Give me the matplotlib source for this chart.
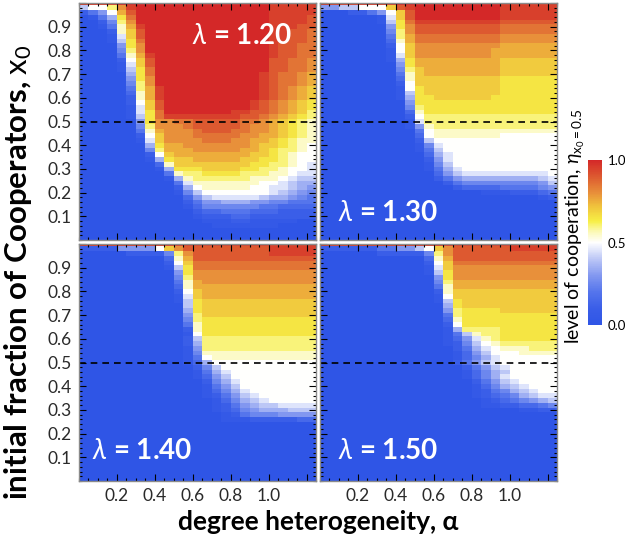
import numpy as np
import matplotlib
matplotlib.use("Agg")
import matplotlib.pyplot as plt
from matplotlib.colors import LinearSegmentedColormap
from matplotlib.ticker import MultipleLocator, FixedLocator, FixedFormatter

plt.rcParams['font.family'] = ['Lato', 'DejaVu Sans']
plt.rcParams['mathtext.fontset'] = 'custom'
plt.rcParams['mathtext.rm'] = 'Lato'
plt.rcParams['mathtext.it'] = 'Lato:italic'
plt.rcParams['mathtext.bf'] = 'Lato:bold'

# simulation grid: degree heterogeneity alpha (25 columns) x initial fraction x0 (51 rows)
alpha_edges = np.arange(26) * 0.05
x0_values = np.arange(51) * 0.02
lambdas = ["1.20", "1.30", "1.40", "1.50"]

# cooperation level: one string per x0 row (first = x0 1.00),
# one character per alpha column, in twentieths (0 -> 0.0, A -> 0.5, K -> 1.0)
LEVELS = "0123456789ABCDEFGHIJK"
Z25 = "0000000000000000000000000"

coop_120 = [
    "JJJJKKKKKKKKKKKKKKKKJJJJJ", "8AACGJKKKKKKKKKKKKKKJJJJJ", "246AFIKKKKKKKKKKKKKKJJJJJ",
    "0147DHKKKKKKKKKKKKKKJJJJI", "0025CGKKKKKKKKKKKKKKJJJJI", "0014BFJKKKKKKKKKKKKKJJJII",
    "0002BEIKKKKKKKKKKKKKJJIIH", "00019EIKKKKKKKKKKKKKJJIIH", "00018DHKKKKKKKKKKKKKJJIIH",
    "00006DGKKKKKKKKKKKKKJIIHH", "00005CGKKKKKKKKKKKKKJIIHH", "00004BFJKKKKKKKKKKKKJIIHH",
    "00002AEIKKKKKKKKKKKKIIHHG", "000019EIKKKKKKKKKKKKIIHHG", "000018DHKKKKKKKKKKKKIIHHG",
    "000007DHKKKKKKKKKKKJIHHGF", "000006DGKKKKKKKKKKKJIHHGF", "000005CGKKKKKKKKKKKJIHHGF",
    "000004CFJKKKKKKKKKKJIHGFE", "000003BFJKKKKKKKKKKJIHGFE", "000002BFJKKKKKKKKKKJIHGFE",
    "000002AEIKKKKKKKKKJIHGFED", "0000019EIKKKKKKKKKJIHGFED", "0000019DHKKKKKKKJJIIHGFEC",
    "0000018DHJJJJJJJJIIHGFEDC", "0000006DGGHHIIIIIHHGFEDCB", "0000005CGGGHIIIIIHGGFEDCB",
    "0000004BFGGGHIIIHHGGFEDCB", "0000002AEGGGHHHHHGGFFEDCB", "00000019EGGGGHHHGGFFEDCBB",
    "00000007DFFGGGGGGGFEEDCBA", "00000005CFFFGGGGGFFEDCCBA", "00000002AEFFFFFFFFEEDCBAA",
    "000000017DEEFFFFFEEDDCBAA", "000000003BEEEEEEEEDDCCBA9", "0000000017DDDEEEEDDCCBAA9",
    "0000000004BCCDDDDCCCBBA99", "00000000017BCCCCCCBBBA988", "000000000049BBBBBBBAA9877",
    "000000000027ABBBBBAA99876", "0000000000158AAAAAAA98765", "0000000000036899999877654",
    "0000000000024667776655444", "0000000000013555555443333", "0000000000002334443332222",
    "0000000000001222332222222", "0000000000000111221111100", "0000000000000011111110000",
    Z25, Z25, Z25,
]
coop_130 = [
    "JJJJJJJJKKKKKKKKKKKJJJJJJ", "6688AAAEIJKKKKKKKKKJJJJJJ", "0002246AEIKKKKKKKKKJJJJJJ",
    "00000019EIKKKKKKKKKJJJJJJ", "00000018DHJJJJJJJJJIIIIII", "00000006DGIIIIIIIIIHHHHHH",
    "00000005CGIIIIIIIIIHHHHHH", "00000004CFHHHHHHHHHGGGGGG", "00000003BFHHHHHHHHHGGGGGG",
    "00000002AEGGGGGGGGGFFFFFF", "00000001AEGGGGGGGGFFFFFFF", "000000019EGGGGGGGGFFFFFFF",
    "000000017DFFFFFFFFFEEEEEE", "000000006DFFFFFFFFFEEEEEE", "000000005CEFFFFFFFFEEEEEE",
    "000000004BEFFFFFFFFEEEEEE", "000000003BEEEEEEEEEDDDDDD", "000000002AEEEEEEEEEDDDDDD",
    "000000001ADEEEEEEEEDDDDDD", "0000000018DEEEEEEEEDDDDDD", "0000000017DDEEEEEEDDDDDDD",
    "0000000006DDDDDDDDDDDDDDD", "0000000005CDDDDDDDDDDDDDD", "0000000003BDDDDDDDDDDDDDD",
    "0000000002ACCCCCCCCCCCCCC", "00000000019CCCCCCCCCCCCCC", "00000000016BCCCCCCCCCCCCC",
    "00000000004ABBBBBBBBBBBBB", "00000000003ABBBBBBBAAAAAA", "000000000028AAAAAAAAAAAAA",
    "0000000000159AAAAAAAAAAAA", "0000000000148AAAAAAAAAAAA", "00000000000379AAAAAAAAAAA",
    "00000000000269AAAAAAAAAAA", "00000000000158AAAAAAAAAAA", "000000000001479AAAAAAAAAA",
    "000000000000368999999999A", "0000000000002467777777789", "0000000000000245555555568",
    "0000000000000023333444456", "0000000000000000011122234", "0000000000000000000000012",
    Z25, Z25, Z25, Z25, Z25, Z25, Z25, Z25, Z25,
]
coop_140 = [
    "JJJJJJJJJJJJJJJJJJJJJJJJJ", "22226666AEGIIIIIIIIIJJJJJ", "0000022225CGIIIIIIIIJJJJJ",
    "0000000003BFIIIIIIIIIIIII", "0000000002AEHHHHHHHHHHHHH", "00000000018DHHHHHHHHHHHHH",
    "00000000006DGGGGGGGGGGGGG", "00000000005CGGGGGGGGGGGGG", "00000000004BFGGGGGGGGGGGG",
    "00000000003BFFFFFFFFFFFFF", "00000000002AEFFFFFFFFFFFF", "000000000019EFFFFFFFFFFFF",
    "000000000018DEEEEEEEEEEEE", "000000000008DEEEEEEEEEEEE", "000000000007DEEEEEEEEEEEE",
    "000000000006CEEEEEEEEEEEE", "000000000005CDDDDDDDDDDDD", "000000000004BDDDDDDDDDDDD",
    "000000000002BDDDDDDDDDDDD", "000000000001ADDDDDDDDDDDD", "0000000000028CCCCCCCCCCCC",
    "0000000000027CCCCCCCCCCCC", "0000000000016CCCCCCCCCCCC", "0000000000015BBBBBBBBBBBB",
    "0000000000014ABBBBBBBBBBB", "00000000000137AAAAAAAAAAA", "000000000000258AAAAAAAAAA",
    "0000000000001479AAAAAAAAA", "0000000000001368AAAAAAAAA", "00000000000002579AAAAAAAA",
    "00000000000001468AAAAAAAA", "000000000000013579AAAAAAA", "0000000000000124689AAAAAA",
    "00000000000000135789AAAAA", "0000000000000012467889999", "0000000000000012356777888",
    "0000000000000001245556666", "0000000000000001112222233",
    Z25, Z25, Z25, Z25, Z25, Z25, Z25, Z25, Z25, Z25, Z25, Z25, Z25,
]
coop_150 = [
    "JJJJJJJJJJJJJJJJJJJJJJJJJ", "22222244668AEGIIIIIIJJJJJ", "000000222225CGIIIIIIIIIII",
    "000000000003BFIIIIIIIIIII", "000000000002AEHHHHHHHHHHH", "0000000000019EGGGGGGGGGGG",
    "0000000000018DGGGGGGGGGGG", "0000000000006DGGGGGGGGGGG", "0000000000005CFFFFFFFFFFF",
    "0000000000004BFFFFFFFFFFF", "0000000000002BEEEEEEEEEEE", "0000000000001AEEEEEEEEEEE",
    "00000000000018DEEEEEEEEEE", "00000000000007DEEEEEEEEEE", "00000000000006CDDDDEEEEEE",
    "00000000000004CDDDDDDDDDD", "00000000000003BDDDDDDDDDD", "00000000000002ADDDDDDDDDD",
    "000000000000017CCCCDDDDDD", "0000000000000148BCCDDDDDD", "00000000000001369BCDDDDDD",
    "00000000000001258ABCCCCCC", "000000000000002479ABBBCCC", "000000000000001368AAABBBB",
    "0000000000000013579AAAAAA", "0000000000000024689AAAAAA", "00000000000000024689AAAAA",
    "00000000000000013578AAAAA", "00000000000000013579AAAAA", "000000000000000024689AAAA",
    "0000000000000000135789AAA", "00000000000000001245789AA", "0000000000000000123457899",
    "0000000000000000012345678", "0000000000000000011223345", "0000000000000000000001122",
    Z25, Z25, Z25, Z25, Z25, Z25, Z25, Z25, Z25, Z25, Z25, Z25, Z25, Z25, Z25,
]
panels = [coop_120, coop_130, coop_140, coop_150]


def to_grid(rows):
    if len(rows) != 51:
        raise ValueError(f"bad row count {len(rows)}")
    for r in rows:
        if len(r) != 25:
            raise ValueError(f"bad row length {len(r)}: {r}")
    return np.array([[LEVELS.index(c) / 20 for c in r] for r in rows[::-1]])


cmap = LinearSegmentedColormap.from_list("coop", [
    (0.0, "#2f55e6"), (0.1, "#3a5ee8"), (0.2, "#5575ec"), (0.3, "#8398f0"),
    (0.4, "#bcc7f6"), (0.5, "#ffffff"), (0.57, "#fbf8b0"), (0.63, "#f7ef45"),
    (0.72, "#f0c23c"), (0.8, "#e8903a"), (0.9, "#dd5a30"), (1.0, "#d42828"),
])

fig = plt.figure(figsize=(6.25, 5.41), dpi=100)
W, H = 625, 541
boxes = [(79, 3), (320, 3), (79, 244), (320, 244)]
label_pos = [(0.688, 0.861), (0.287, 0.114), (0.266, 0.127), (0.287, 0.127)]
y_edges = np.append(x0_values - 0.01, x0_values[-1] + 0.01)

for i, (rows, lam) in enumerate(zip(panels, lambdas)):
    px, py = boxes[i]
    ax = fig.add_axes([px / W, 1 - (py + 237) / H, 237 / W, 237 / H])
    mesh = ax.pcolormesh(alpha_edges, y_edges, to_grid(rows), cmap=cmap,
                         vmin=0, vmax=1, shading='flat')
    ax.axhline(0.5, color='k', ls=(0, (4, 3)), lw=1.2)
    ax.set_xlim(0, 1.25)
    ax.set_ylim(0, 1.0)

    ax.xaxis.set_major_locator(FixedLocator([0.2, 0.4, 0.6, 0.8, 1.0, 1.2]))
    ax.xaxis.set_major_formatter(FixedFormatter(['0.2', '0.4', '0.6', '0.8', '1.0', '']))
    ax.xaxis.set_minor_locator(MultipleLocator(0.05))
    ax.yaxis.set_major_locator(FixedLocator([0.1 * k for k in range(1, 11)]))
    ax.yaxis.set_major_formatter(FixedFormatter([f"{0.1 * k:.1f}" for k in range(1, 10)] + ['']))
    ax.yaxis.set_minor_locator(MultipleLocator(0.02))
    ax.tick_params(which='both', direction='in', top=True, right=True,
                   color='k', width=0.8, labelsize=12.5, labelcolor='#2a2a2a')
    ax.tick_params(which='major', length=5, pad=5)
    ax.tick_params(which='minor', length=2.5)
    ax.tick_params(labelbottom=(i >= 2), labelleft=(i % 2 == 0))
    for sp in ax.spines.values():
        sp.set_color('#8a8a8a')
        sp.set_linewidth(1.0)

    lx, ly = label_pos[i]
    ax.text(lx, ly, r"$\lambda$ = " + lam, transform=ax.transAxes, color='white',
            fontsize=20, fontweight='bold', ha='center', va='center')

cax = fig.add_axes([588 / W, 1 - 325 / H, 14 / W, 165 / H])
cb = fig.colorbar(mesh, cax=cax, ticks=[0, 0.5, 1])
cb.ax.set_yticklabels(['0.0', '0.5', '1.0'])
cb.ax.tick_params(length=0, labelsize=9.5, pad=4)
cb.outline.set_visible(False)

fig.text(575 / W, 1 - 226 / H, r"level of cooperation, $\eta_{\mathrm{x_0=0.5}}$",
         rotation=90, ha='center', va='center', fontsize=14)
fig.text(18 / W, 1 - 272 / H, r"initial fraction of Cooperators, $\mathrm{x_0}$",
         rotation=90, ha='center', va='center', fontsize=22.5, fontweight='bold')
fig.text(318 / W, 1 - 522 / H, "degree heterogeneity, α",
         ha='center', va='center', fontsize=19, fontweight='bold')

fig.savefig("out.png", dpi=100)
